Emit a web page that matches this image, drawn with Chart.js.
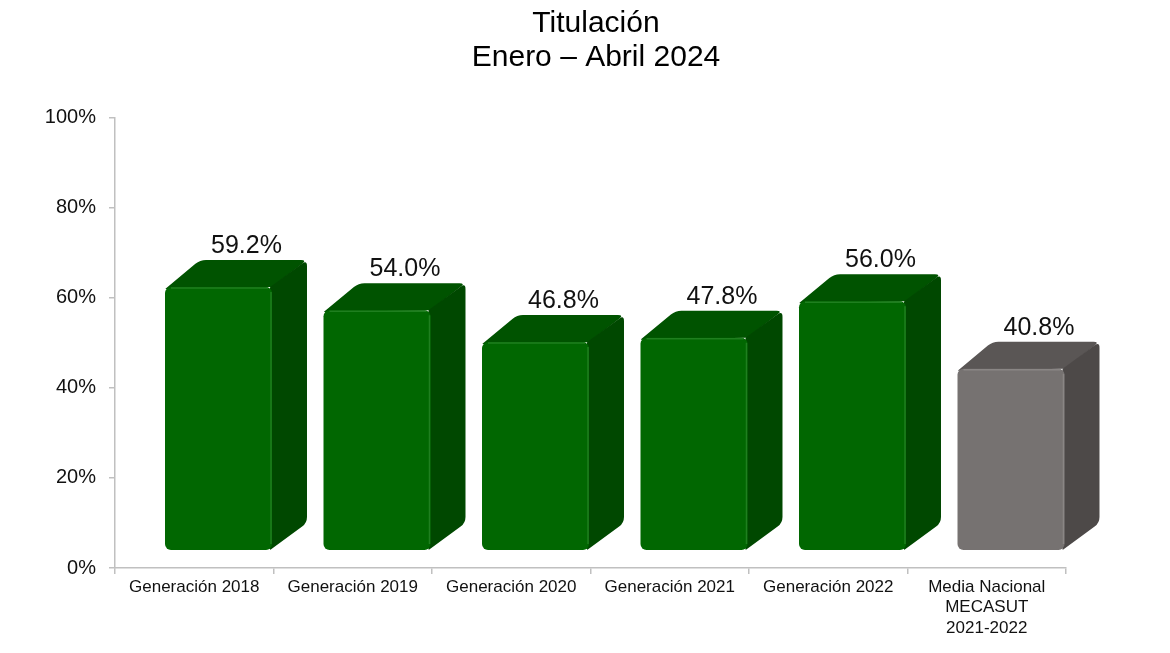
<!DOCTYPE html>
<html>
<head>
<meta charset="utf-8">
<script src="https://cdn.jsdelivr.net/npm/chart.js@4"></script>
<style>
html,body{margin:0;padding:0;background:#fff;}
#wrap{width:1170px;height:653px;}
</style>
</head>
<body>
<div id="wrap"><canvas id="c" width="1170" height="653"></canvas></div>
<script>
const titleLines = ['Titulación', 'Enero – Abril 2024'];
const categories = ['Generación 2018', 'Generación 2019', 'Generación 2020', 'Generación 2021', 'Generación 2022', ['Media Nacional', 'MECASUT', '2021-2022']];
const values = [59.2, 54.0, 46.8, 47.8, 56.0, 40.8];
const valueLabels = ['59.2%', '54.0%', '46.8%', '47.8%', '56.0%', '40.8%'];
const yTicks = [0, 20, 40, 60, 80, 100];
const barPositions = [0, 1, 2, 3, 4, 5];

const frontColors = ['#016701', '#016701', '#016701', '#016701', '#016701', '#767271'];
const topColors   = ['#005300', '#005300', '#005300', '#005300', '#005300', '#5a5655'];
const sideColors  = ['#004800', '#004800', '#004800', '#004800', '#004800', '#4d4948'];
const edgeColors  = ['#1f7f1f', '#1f7f1f', '#1f7f1f', '#1f7f1f', '#1f7f1f', '#8a8685'];

const DX = 35, DY = -27;

function roundPoly(ctx, pts, r) {
  ctx.beginPath();
  const n = pts.length;
  for (let i = 0; i < n; i++) {
    const p0 = pts[(i - 1 + n) % n], p1 = pts[i], p2 = pts[(i + 1) % n];
    const rr = p1[2] === undefined ? r : p1[2];
    const d1 = Math.hypot(p0[0]-p1[0], p0[1]-p1[1]);
    const d2 = Math.hypot(p2[0]-p1[0], p2[1]-p1[1]);
    const a = [p1[0] + (p0[0]-p1[0]) * Math.min(rr, d1/2) / d1, p1[1] + (p0[1]-p1[1]) * Math.min(rr, d1/2) / d1];
    const b = [p1[0] + (p2[0]-p1[0]) * Math.min(rr, d2/2) / d2, p1[1] + (p2[1]-p1[1]) * Math.min(rr, d2/2) / d2];
    if (i === 0) ctx.moveTo(a[0], a[1]); else ctx.lineTo(a[0], a[1]);
    ctx.quadraticCurveTo(p1[0], p1[1], b[0], b[1]);
  }
  ctx.closePath();
}

const box3d = {
  id: 'box3d',
  beforeDatasetsDraw(chart) {
    const ctx = chart.ctx;
    const meta = chart.getDatasetMeta(0);
    ctx.save();
    meta.data.forEach((bar, i) => {
      const l = bar.x - bar.width / 2, r = bar.x + bar.width / 2;
      const t = bar.y, b = bar.base;
      ctx.fillStyle = topColors[i];
      roundPoly(ctx, [[l, t + 2, 1], [l + DX, t + DY, 6], [r + DX, t + DY, 6], [r, t, 1]], 5);
      ctx.fill();
      ctx.fillStyle = sideColors[i];
      roundPoly(ctx, [[r - 2, t, 1], [r + DX, t + DY, 6], [r + DX, b + DY, 6], [r - 2, b, 1]], 5);
      ctx.fill();
    });
    ctx.restore();
  },
  afterDatasetsDraw(chart) {
    const ctx = chart.ctx;
    const meta = chart.getDatasetMeta(0);
    ctx.save();
    meta.data.forEach((bar, i) => {
      const l = bar.x - bar.width / 2, r = bar.x + bar.width / 2;
      const t = bar.y, b = bar.base;
      ctx.strokeStyle = edgeColors[i];
      ctx.lineWidth = 1.5;
      ctx.beginPath();
      ctx.moveTo(l + 6, t + 1);
      ctx.lineTo(r - 4, t + 1);
      ctx.moveTo(r - 1, t + 5);
      ctx.lineTo(r - 1, b - 6);
      ctx.stroke();
      ctx.fillStyle = '#111';
      ctx.font = '25px "Liberation Sans", Arial, sans-serif';
      ctx.textAlign = 'center';
      ctx.textBaseline = 'alphabetic';
      ctx.fillText(valueLabels[i], bar.x + 0.8 * DX, t + DY - 7);
    });
    ctx.restore();
  }
};

const FONT = '"Liberation Sans", Arial, sans-serif';

new Chart(document.getElementById('c'), {
  type: 'bar',
  data: {
    labels: categories,
    datasets: [{
      data: values.map((v, i) => ({ x: barPositions[i], y: v })),
      xAxisID: 'x2',
      yAxisID: 'y2',
      backgroundColor: frontColors,
      borderWidth: 0,
      borderRadius: 6,
      borderSkipped: false,
      categoryPercentage: 1,
      barPercentage: 0.675
    }]
  },
  options: {
    responsive: false,
    animation: false,
    devicePixelRatio: 1,
    layout: { padding: { left: 22, right: 0, top: 0, bottom: 0 } },
    plugins: {
      legend: { display: false },
      tooltip: { enabled: false },
      title: {
        display: true,
        text: titleLines,
        color: '#000',
        font: { family: FONT, size: 30, weight: 'normal', lineHeight: 1.13 },
        padding: { top: 7, bottom: 43 }
      }
    },
    scales: {
      x: {
        type: 'category',
        offset: true,
        grid: { offset: true, drawOnChartArea: false, color: '#c0c0c0', tickLength: 6, lineWidth: 1.5 },
        border: { color: '#c0c0c0', width: 1.5 },
        ticks: { color: '#111', font: { family: FONT, size: 17, lineHeight: 1.2 }, padding: 3, maxRotation: 0, autoSkip: false },
        afterFit(s) { s.height = 85; }
      },
      x2: {
        type: 'linear',
        display: false,
        offset: false,
        grid: { offset: false },
        min: -0.653,
        max: 5.347,
        afterBuildTicks(s) { s.ticks = barPositions.map(v => ({ value: v })); }
      },
      y: {
        type: 'linear',
        position: 'left',
        min: 0,
        max: 100,
        afterBuildTicks(s) { s.ticks = yTicks.map(v => ({ value: v })); },
        grid: { drawOnChartArea: false, color: '#c0c0c0', tickLength: 6, lineWidth: 1.5 },
        border: { color: '#c0c0c0', width: 1.5 },
        ticks: { color: '#111', font: { family: FONT, size: 20 }, padding: 13, callback: v => v + '%' },
        afterFit(s) { s.width = 93; }
      },
      y2: {
        type: 'linear',
        position: 'right',
        display: true,
        min: -4.05,
        max: 97.3,
        grid: { display: false },
        border: { display: false },
        ticks: { display: false },
        afterFit(s) { s.width = 104; }
      }
    }
  },
  plugins: [box3d]
});
</script>
</body>
</html>
